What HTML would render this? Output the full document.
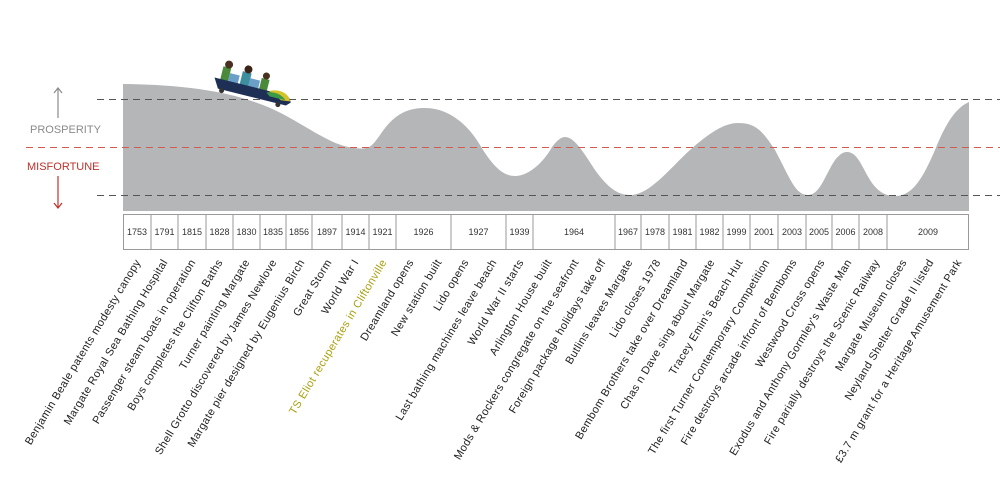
<!DOCTYPE html>
<html><head><meta charset="utf-8"><style>
html,body{margin:0;padding:0;background:#fff;width:1000px;height:485px;overflow:hidden}
svg{display:block;font-family:"Liberation Sans","DejaVu Sans",sans-serif}
</style></head><body>
<svg width="1000" height="485" viewBox="0 0 1000 485" xmlns="http://www.w3.org/2000/svg">
<path fill="#b5b6b8" d="M123,84 C200,85 250,95 290,118 C320,135 335,146 355,148 C370,150 372,146 380,135 C395,112 410,108 425,108 C445,108 465,120 480,145 C495,170 505,176 515,176 C530,176 545,160 552,147 C558,139 562,137 565,137 C575,137 585,155 595,170 C608,188 618,195 630,195 C650,195 670,168 690,150 C710,132 725,123 738,123 C755,123 762,130 775,150 C790,178 795,195 808,195 C820,195 825,175 835,160 C840,154 843,152 847,152 C858,152 862,168 872,183 C880,194 888,196 895,196 C912,196 922,180 935,150 C945,125 955,108 969,102 L969,211 L123,211 Z"/>
<line x1="97" y1="99.5" x2="1000" y2="99.5" stroke="#555" stroke-width="1" stroke-dasharray="7,5"/>
<line x1="26" y1="147.5" x2="1000" y2="147.5" stroke="#d45a50" stroke-width="1" stroke-dasharray="7,5"/>
<line x1="97" y1="195.5" x2="1000" y2="195.5" stroke="#555" stroke-width="1" stroke-dasharray="7,5"/>
<line x1="58" y1="89" x2="58" y2="118" stroke="#8a8a8a" stroke-width="1.2"/>
<path d="M54,93 L58,88 L62,93" fill="none" stroke="#8a8a8a" stroke-width="1.2"/>
<text x="30" y="133" font-size="11" fill="#8a8a8a">PROSPERITY</text>
<text x="27" y="170" font-size="11" fill="#c0302a">MISFORTUNE</text>
<line x1="58" y1="176" x2="58" y2="207" stroke="#c0302a" stroke-width="1.2"/>
<path d="M54,203 L58,208 L62,203" fill="none" stroke="#c0302a" stroke-width="1.2"/>
<g transform="rotate(14,248,92)">
 <rect x="218" y="73" width="8" height="14" fill="#4a8a3a"/>
 <rect x="238" y="73" width="9" height="14" fill="#3d8f9f"/>
 <rect x="258" y="75" width="8" height="12" fill="#4a8a3a"/>
 <circle cx="223" cy="70" r="4" fill="#4a3020"/><circle cx="243" cy="70" r="4" fill="#3a2418"/><circle cx="262" cy="72" r="3.5" fill="#4a3020"/>
 <rect x="226" y="78" width="10" height="9" fill="#6aa0c8"/><rect x="247" y="78" width="10" height="9" fill="#6aa0c8"/>
 <path d="M212,86 L272,86 C282,82 290,86 292,92 L288,96 L218,96 Z" fill="#1e2f55"/>
 <path d="M268,86 C280,80 289,85 291,91 L282,92 Z" fill="#d6c32a"/>
 <path d="M266,88 C276,84 284,88 286,91 L270,91 Z" fill="#3b9a45"/>
 <circle cx="222" cy="97" r="2.5" fill="#333"/><circle cx="280" cy="97" r="2.5" fill="#333"/>
</g>
<rect x="123.5" y="214.5" width="845" height="35" stroke="#9a9a9a" stroke-width="1" fill="#fff"/>
<g stroke="#9a9a9a" stroke-width="1">
<line x1="151" y1="214" x2="151" y2="249"/><line x1="178" y1="214" x2="178" y2="249"/><line x1="206" y1="214" x2="206" y2="249"/><line x1="233" y1="214" x2="233" y2="249"/><line x1="260" y1="214" x2="260" y2="249"/><line x1="286" y1="214" x2="286" y2="249"/><line x1="312" y1="214" x2="312" y2="249"/><line x1="342" y1="214" x2="342" y2="249"/><line x1="369" y1="214" x2="369" y2="249"/><line x1="396" y1="214" x2="396" y2="249"/><line x1="451" y1="214" x2="451" y2="249"/><line x1="506" y1="214" x2="506" y2="249"/><line x1="533" y1="214" x2="533" y2="249"/><line x1="615" y1="214" x2="615" y2="249"/><line x1="641" y1="214" x2="641" y2="249"/><line x1="669" y1="214" x2="669" y2="249"/><line x1="696" y1="214" x2="696" y2="249"/><line x1="723" y1="214" x2="723" y2="249"/><line x1="750" y1="214" x2="750" y2="249"/><line x1="778" y1="214" x2="778" y2="249"/><line x1="806" y1="214" x2="806" y2="249"/><line x1="832" y1="214" x2="832" y2="249"/><line x1="859" y1="214" x2="859" y2="249"/><line x1="887" y1="214" x2="887" y2="249"/>
</g>
<g font-size="9" fill="#333" text-anchor="middle">
<text x="137" y="235">1753</text><text x="164.5" y="235">1791</text><text x="192" y="235">1815</text><text x="219.5" y="235">1828</text><text x="246.5" y="235">1830</text><text x="273" y="235">1835</text><text x="299" y="235">1856</text><text x="327" y="235">1897</text><text x="355.5" y="235">1914</text><text x="382.5" y="235">1921</text><text x="423.5" y="235">1926</text><text x="478.5" y="235">1927</text><text x="519.5" y="235">1939</text><text x="574" y="235">1964</text><text x="628" y="235">1967</text><text x="655" y="235">1978</text><text x="682.5" y="235">1981</text><text x="709.5" y="235">1982</text><text x="736.5" y="235">1999</text><text x="764" y="235">2001</text><text x="792" y="235">2003</text><text x="819" y="235">2005</text><text x="845.5" y="235">2006</text><text x="873" y="235">2008</text><text x="928" y="235">2009</text>
</g>
<g font-size="11" fill="#222" text-anchor="end" letter-spacing="0.4">
<text transform="translate(141,262) rotate(-59)">Benjamin Beale patents modesty canopy</text>
<text transform="translate(168,262) rotate(-59)">Margate  Royal Sea Bathing Hospital</text>
<text transform="translate(196,262) rotate(-59)">Passenger steam boats in operation</text>
<text transform="translate(223,262) rotate(-59)">Boys completes the Clifton Baths</text>
<text transform="translate(250,262) rotate(-59)">Turner painting Margate</text>
<text transform="translate(277,262) rotate(-59)">Shell Grotto discovered by James Newlove</text>
<text transform="translate(305,262) rotate(-59)">Margate pier  designed by Eugenius Birch</text>
<text transform="translate(332,262) rotate(-59)">Great Storm</text>
<text transform="translate(359,262) rotate(-59)">World War I</text>
<text transform="translate(387,262) rotate(-59)" fill="#a8a010">TS Eliot recuperates in Cliftonville</text>
<text transform="translate(414,262) rotate(-59)">Dreamland opens</text>
<text transform="translate(442,262) rotate(-59)">New  station built</text>
<text transform="translate(469,262) rotate(-59)">Lido opens</text>
<text transform="translate(497,262) rotate(-59)">Last bathing machines leave  beach</text>
<text transform="translate(524,262) rotate(-59)">World War II starts</text>
<text transform="translate(552,262) rotate(-59)">Arlington House built</text>
<text transform="translate(579,262) rotate(-59)">Mods &amp; Rockers congregate on the seafront</text>
<text transform="translate(606,262) rotate(-59)">Foreign package holidays  take off</text>
<text transform="translate(633,262) rotate(-59)">Butlins leaves Margate</text>
<text transform="translate(661,262) rotate(-59)">Lido closes 1978</text>
<text transform="translate(688,262) rotate(-59)">Bembom Brothers take over Dreamland</text>
<text transform="translate(715,262) rotate(-59)">Chas n Dave sing about Margate</text>
<text transform="translate(743,262) rotate(-59)">Tracey Emin's Beach Hut</text>
<text transform="translate(770,262) rotate(-59)">The first Turner Contemporary Competition</text>
<text transform="translate(797,262) rotate(-59)">Fire destroys arcade infront of Bemboms</text>
<text transform="translate(825,262) rotate(-59)">Westwood Cross opens</text>
<text transform="translate(852,262) rotate(-59)">Exodus  and Anthony Gormley's Waste Man</text>
<text transform="translate(880,262) rotate(-59)">Fire parially destroys the Scenic Railway</text>
<text transform="translate(907,262) rotate(-59)">Margate Museum closes</text>
<text transform="translate(934,262) rotate(-59)">Neyland Shelter  Grade II listed</text>
<text transform="translate(962,262) rotate(-59)">£3.7 m  grant for a Heritage Amusement Park</text>
</g>
</svg>
</body></html>
